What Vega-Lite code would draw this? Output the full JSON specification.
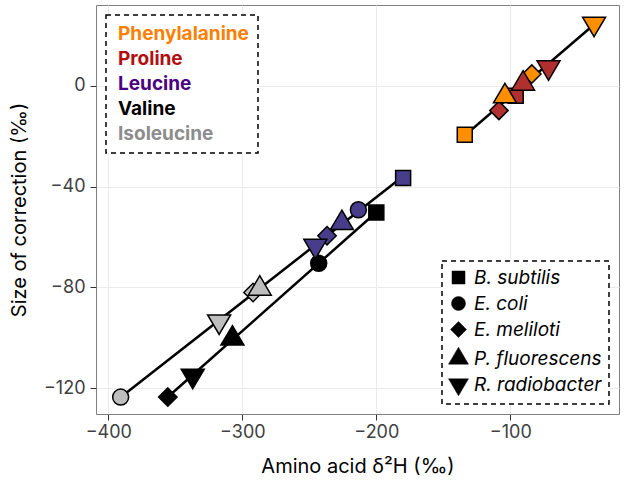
{
  "$schema": "https://vega.github.io/schema/vega-lite/v6.json",
  "width": 523,
  "height": 409,
  "autosize": {"type": "none"},
  "padding": {"left": 96, "top": 5, "right": 5, "bottom": 74},
  "data": {
    "values": [
      {"acid": "Valine", "species": "B. subtilis", "x": -200, "y": -50.3, "fit": "val"},
      {"acid": "Valine", "species": "E. coli", "x": -243, "y": -70.4, "fit": "val"},
      {"acid": "Valine", "species": "E. meliloti", "x": -355.6, "y": -123.5, "fit": "val"},
      {"acid": "Valine", "species": "P. fluorescens", "x": -307.4, "y": -100.3, "fit": "val"},
      {"acid": "Valine", "species": "R. radiobacter", "x": -337, "y": -115, "fit": "val"},
      {"acid": "Isoleucine", "species": "E. coli", "x": -390.8, "y": -123.5, "fit": "leu"},
      {"acid": "Isoleucine", "species": "R. radiobacter", "x": -317.3, "y": -93.5, "fit": "leu"},
      {"acid": "Isoleucine", "species": "E. meliloti", "x": -292, "y": -82, "fit": "leu"},
      {"acid": "Isoleucine", "species": "P. fluorescens", "x": -287, "y": -80.5, "fit": "leu"},
      {"acid": "Leucine", "species": "B. subtilis", "x": -180, "y": -36.6, "fit": "leu"},
      {"acid": "Leucine", "species": "E. coli", "x": -213.4, "y": -49.2, "fit": "leu"},
      {"acid": "Leucine", "species": "P. fluorescens", "x": -225.7, "y": -54.5, "fit": "leu"},
      {"acid": "Leucine", "species": "E. meliloti", "x": -236.8, "y": -59.5, "fit": "leu"},
      {"acid": "Leucine", "species": "R. radiobacter", "x": -245.5, "y": -63.5, "fit": "leu"},
      {"acid": "Proline", "species": "E. meliloti", "x": -108.5, "y": -9.8, "fit": "phe"},
      {"acid": "Proline", "species": "B. subtilis", "x": -96, "y": -4, "fit": "phe"},
      {"acid": "Phenylalanine", "species": "B. subtilis", "x": -134, "y": -19.5, "fit": "phe"},
      {"acid": "Phenylalanine", "species": "P. fluorescens", "x": -104, "y": -4.2, "fit": "phe"},
      {"acid": "Phenylalanine", "species": "E. meliloti", "x": -84, "y": 4.6, "fit": "phe"},
      {"acid": "Proline", "species": "P. fluorescens", "x": -90.5, "y": 0.8, "fit": "phe"},
      {"acid": "Proline", "species": "R. radiobacter", "x": -71.5, "y": 7.3, "fit": "phe"},
      {"acid": "Phenylalanine", "species": "R. radiobacter", "x": -37.5, "y": 24.6, "fit": "phe"}
    ]
  },
  "encoding": {
    "x": {
      "field": "x",
      "type": "quantitative",
      "scale": {"domain": [-409.2, -18.9], "nice": false, "zero": false},
      "axis": {"values": [-400, -300, -200, -100], "title": "Amino acid δ²H (‰)", "labelPadding": 3, "titlePadding": 15}
    },
    "y": {
      "field": "y",
      "type": "quantitative",
      "scale": {"domain": [-130.2, 32], "nice": false, "zero": false},
      "axis": {"values": [-120, -80, -40, 0], "title": "Size of correction (‰)", "labelPadding": 5, "titlePadding": 14}
    }
  },
  "layer": [
    {
      "transform": [{"regression": "y", "on": "x", "groupby": ["fit"]}],
      "mark": {"type": "line", "color": "black", "strokeWidth": 2.5},
      "encoding": {"detail": {"field": "fit", "type": "nominal"}}
    },
    {
      "mark": {"type": "point", "filled": true, "stroke": "black", "strokeWidth": 1.5, "size": 400, "opacity": 1},
      "encoding": {
        "fill": {
          "field": "acid",
          "type": "nominal",
          "scale": {
            "domain": ["Phenylalanine", "Proline", "Leucine", "Valine", "Isoleucine"],
            "range": ["#ff8f00", "#b0302f", "#483d8b", "#000000", "#bebebe"]
          },
          "legend": {
            "title": null,
            "orient": "top-left",
            "offset": 10,
            "padding": 9,
            "strokeColor": "black",
            "symbolSize": 0,
            "symbolOpacity": 0,
            "symbolStrokeWidth": 0,
            "labelOffset": -16,
            "labelFontSize": 19,
            "labelFontWeight": "bold",
            "rowPadding": 5,
            "encoding": {
              "legend": {"strokeDash": {"value": [5, 4]}, "strokeWidth": {"value": 1.5}},
              "symbols": {"size": {"value": 0}, "opacity": {"value": 0}},
              "labels": {
                "fill": {
                  "condition": [
                    {"test": "datum.value === 'Phenylalanine'", "value": "#ff8000"},
                    {"test": "datum.value === 'Proline'", "value": "#b01010"},
                    {"test": "datum.value === 'Leucine'", "value": "#4b0082"},
                    {"test": "datum.value === 'Isoleucine'", "value": "#8c8c8c"}
                  ],
                  "value": "#000000"
                }
              }
            }
          }
        },
        "shape": {
          "field": "species",
          "type": "nominal",
          "scale": {
            "domain": ["B. subtilis", "E. coli", "E. meliloti", "P. fluorescens", "R. radiobacter"],
            "range": [
              "M-0.75,-0.75H0.75V0.75H-0.75Z",
              "M0.8,0A0.8,0.8 0 1,1 -0.8,0A0.8,0.8 0 1,1 0.8,0Z",
              "M0,-0.92L0.92,0L0,0.92L-0.92,0Z",
              "M0,-1.3L1.15,0.65L-1.15,0.65Z",
              "M0,1.3L1.15,-0.65L-1.15,-0.65Z"
            ]
          },
          "legend": {
            "title": null,
            "orient": "bottom-right",
            "offset": 10,
            "padding": 7,
            "strokeColor": "black",
            "symbolSize": 300,
            "symbolFillColor": "black",
            "symbolStrokeColor": "black",
            "symbolStrokeWidth": 0.5,
            "labelOffset": 6,
            "labelFontSize": 19,
            "labelFontStyle": "italic",
            "labelColor": "black",
            "rowPadding": 6,
            "encoding": {
              "legend": {"strokeDash": {"value": [5, 4]}, "strokeWidth": {"value": 1.5}},
              "symbols": {"fill": {"value": "black"}, "stroke": {"value": "black"}}
            }
          }
        }
      }
    }
  ],
  "config": {
    "font": "Inter",
    "view": {"stroke": "#808080", "strokeWidth": 1},
    "axis": {
      "grid": true,
      "gridColor": "#ebebeb",
      "gridWidth": 1,
      "domain": false,
      "tickColor": "#333333",
      "tickSize": 6,
      "labelColor": "#404040",
      "labelFontSize": 18,
      "titleFontSize": 20,
      "titleFontWeight": "normal",
      "titleColor": "#000000"
    },
    "legend": {"strokeDash": [5, 4], "strokeWidth": 1.5, "fillColor": "white"}
  }
}
